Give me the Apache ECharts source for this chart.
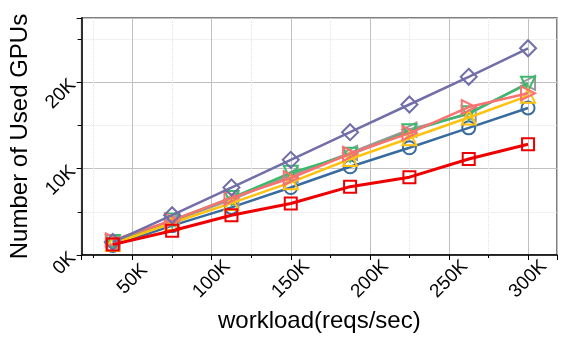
<!DOCTYPE html>
<html>
<head>
<meta charset="utf-8">
<script src="https://cdn.jsdelivr.net/npm/echarts@6/dist/echarts.min.js"></script>
<style>
  html, body { margin: 0; padding: 0; background: #fff; }
  #main { width: 571px; height: 338px; }
</style>
</head>
<body>
<div id="main"></div>
<script>
// workload points (reqs/sec)
var workload = [37500, 75000, 112500, 150000, 187500, 225000, 262500, 300000];

// used GPUs per series
var redVals    = [1200, 2800, 4600, 5950, 7900, 9000, 11100, 12800];
var blueVals   = [1100, 3400, 5500, 7800, 10200, 12400, 14700, 17000];
var purpleVals = [1500, 4600, 7800, 11000, 14200, 17400, 20600, 23900];
var yellowVals = [1300, 3700, 6000, 8400, 11100, 13500, 15900, 18400];
var greenVals  = [1500, 4000, 6600, 9500, 11600, 14300, 16400, 19800];
var grayVals   = [1400, 3900, 6400, 9200, 11800, 14500, 16300, 19900];
var salmonVals = [1700, 4000, 6600, 8900, 11700, 14100, 17100, 18700];

var font = 'Liberation Sans';

function pairs(vals) {
    return workload.map(function (x, i) { return [x, vals[i]]; });
}

function mk(vals, color, symbol, rot, size, lw, z) {
    return {
        type: 'line',
        data: pairs(vals),
        symbol: symbol,
        symbolSize: size,
        symbolRotate: rot,
        z: z,
        lineStyle: { color: color, width: lw },
        itemStyle: { color: 'rgba(255,255,255,0)', borderColor: color, borderWidth: 2 },
        emphasis: { disabled: true }
    };
}

var chart = echarts.init(document.getElementById('main'));
chart.setOption({
    animation: false,
    grid: {
        left: 80, right: 14, top: 18, bottom: 76,
        show: true, borderColor: '#555', borderWidth: 1.5
    },
    xAxis: {
        type: 'value',
        min: 17800,
        max: 318300,
        name: 'workload(reqs/sec)',
        nameLocation: 'middle',
        nameGap: 54,
        nameTextStyle: { fontFamily: font, fontSize: 24, color: '#000' },
        axisLine: { show: true, lineStyle: { color: '#000', width: 1.5 } },
        axisTick: { show: true, length: 5, lineStyle: { color: '#000' } },
        minorTick: { show: true, splitNumber: 2, length: 3, lineStyle: { color: '#000' } },
        axisLabel: {
            rotate: 45, fontFamily: font, fontSize: 19, color: '#000', margin: 24,
            align: 'center', verticalAlign: 'middle',
            showMinLabel: false, showMaxLabel: false,
            formatter: function (v) { return (v / 1000) + 'K'; }
        },
        splitLine: { show: true, lineStyle: { color: '#c0c0c0', width: 1 } },
        minorSplitLine: { show: true, lineStyle: { color: '#e2e2e2', type: 'dotted' } }
    },
    yAxis: {
        type: 'value',
        min: 0,
        max: 27400,
        interval: 10000,
        name: 'Number of Used GPUs',
        nameLocation: 'middle',
        nameGap: 38,
        nameTextStyle: { fontFamily: font, fontSize: 24, color: '#000' },
        axisLine: { show: true, lineStyle: { color: '#000', width: 1.5 } },
        axisTick: { show: true, length: 5, lineStyle: { color: '#000' } },
        minorTick: { show: true, splitNumber: 2, length: 4, lineStyle: { color: '#000' } },
        axisLabel: {
            rotate: 45, fontFamily: font, fontSize: 19, color: '#000', margin: 9,
            showMaxLabel: false,
            formatter: function (v) { return (v / 1000) + 'K'; }
        },
        splitLine: { show: true, lineStyle: { color: '#c0c0c0', width: 1 } },
        minorSplitLine: { show: true, lineStyle: { color: '#e2e2e2', type: 'dotted' } }
    },
    series: [
        mk(blueVals, '#386ca0', 'circle', 0, 13, 2.5, 2),
        mk(grayVals, '#9a9a9a', 'triangle', 90, 14, 2.5, 3),
        mk(greenVals, '#3cb96c', 'triangle', 180, 14, 2.5, 4),
        mk(yellowVals, '#ffc20e', 'triangle', 0, 14, 2.5, 5),
        mk(salmonVals, '#fb7070', 'triangle', -90, 14, 2.5, 6),
        mk(purpleVals, '#716ea8', 'diamond', 0, 16, 2.5, 7),
        mk(redVals, '#ee0000', 'rect', 0, 12, 3, 8)
    ]
});
</script>
</body>
</html>
